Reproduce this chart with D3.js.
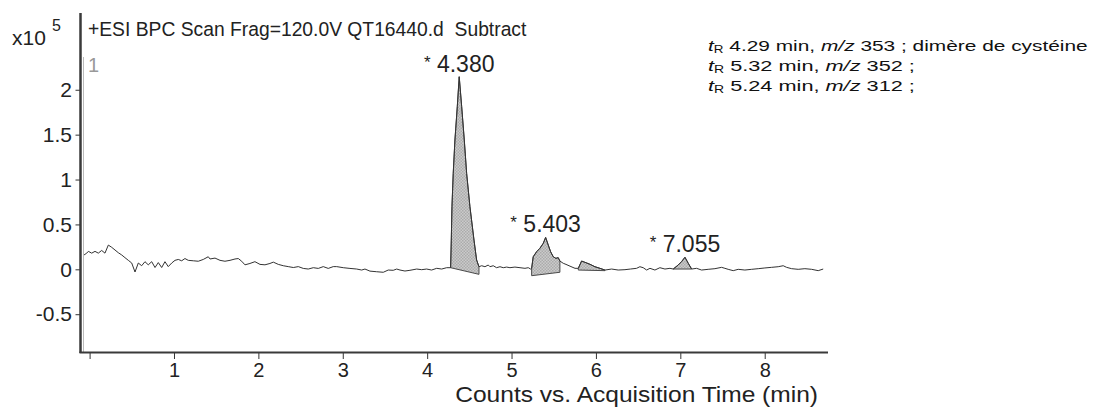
<!DOCTYPE html>
<html><head><meta charset="utf-8">
<script src="https://cdn.jsdelivr.net/npm/d3@7"></script>
<style>
html,body{margin:0;padding:0;background:#fff;}
text{font-family:"Liberation Sans",Arial,sans-serif;}
</style></head>
<body>
<div id="chart"></div>
<script>
// ---- data (counts in units of x10^5, time in min) ----
const acqTime = [-0.066,-0.034,-0.015,0.025,0.064,0.103,0.143,0.182,0.222,0.262,0.301,0.340,0.380,0.419,0.459,0.499,0.538,0.577,0.617,0.656,0.695,0.736,0.775,0.814,0.854,0.893,0.932,0.973,1.012,1.051,1.091,1.130,1.169,1.229,1.288,1.347,1.406,1.427,1.486,1.545,1.604,1.664,1.723,1.762,1.802,1.841,1.900,1.959,2.019,2.078,2.137,2.177,2.236,2.295,2.354,2.414,2.473,2.532,2.591,2.651,2.710,2.769,2.828,2.887,2.928,3.006,3.085,3.165,3.224,3.263,3.322,3.402,3.480,3.539,3.598,3.639,3.678,3.737,3.796,3.876,3.935,3.994,4.053,4.113,4.172,4.231,4.278,4.286,4.294,4.309,4.329,4.357,4.380,4.409,4.440,4.468,4.507,4.555,4.586,4.614,4.646,4.685,4.724,4.744,4.783,4.823,4.863,4.902,4.942,4.981,5.040,5.100,5.159,5.198,5.226,5.238,5.257,5.297,5.336,5.376,5.404,5.435,5.463,5.494,5.526,5.553,5.573,5.613,5.645,5.693,5.752,5.791,5.830,5.869,5.929,5.988,6.047,6.107,6.186,6.264,6.344,6.409,6.482,6.521,6.560,6.601,6.640,6.699,6.758,6.818,6.877,6.916,6.975,7.014,7.055,7.094,7.134,7.193,7.252,7.330,7.410,7.489,7.528,7.567,7.627,7.686,7.765,7.845,7.923,8.002,8.082,8.160,8.219,8.259,8.319,8.397,8.476,8.556,8.634,8.693];
const counts = [0.16,0.18,0.20,0.18,0.20,0.18,0.21,0.18,0.27,0.245,0.215,0.185,0.16,0.13,0.10,0.07,-0.03,0.07,0.04,0.085,0.05,0.085,0.02,0.075,0.02,0.085,0.03,0.07,0.10,0.11,0.095,0.12,0.10,0.095,0.09,0.11,0.14,0.115,0.125,0.10,0.09,0.10,0.115,0.12,0.09,0.05,0.065,0.085,0.055,0.05,0.065,0.08,0.055,0.04,0.03,0.02,0.03,0.01,0.003,0.018,0.01,0.03,0.01,0.03,0.03,0.018,0.01,0.003,-0.008,0.003,-0.02,-0.027,-0.033,-0.008,-0.011,0.003,-0.008,-0.019,-0.011,0.003,-0.004,0.003,-0.008,0.011,0.003,0.018,0.018,0.326,0.697,1.068,1.440,1.812,2.145,1.812,1.440,1.068,0.697,0.326,0.104,0.029,0.040,0.029,0.048,0.029,0.040,0.018,0.029,0.018,0.025,0.018,0.025,0.018,0.011,0.018,0.003,0.011,0.140,0.196,0.234,0.290,0.355,0.270,0.196,0.140,0.122,0.130,0.092,0.067,0.055,0.035,0.011,0.011,0.092,0.078,0.056,0.029,0.011,-0.008,0.003,-0.008,-0.004,0.003,0.011,0.029,0.018,-0.008,0.011,-0.008,0.018,0.003,0.011,0.003,0.048,0.085,0.134,0.067,0.003,0.011,-0.008,0.000,0.007,0.022,0.011,0.000,-0.015,0.000,-0.008,0.000,0.007,0.015,0.022,0.029,0.040,0.022,0.007,0.000,0.007,0.000,-0.015,0.003];

// integrated peaks
const peakStart = [4.278, 5.238, 5.791, 6.916];
const peakEnd   = [4.614, 5.573, 6.107, 7.134];
const baseStart = [0.018, -0.071, -0.008, 0.003];
const baseEnd   = [-0.056, -0.033, -0.015, 0.003];
const peakLabels = ["4.380", "5.403", "7.055"];
const peakLabelRT = [4.380, 5.404, 7.055];
const peakLabelApex = [2.145, 0.355, 0.134];

const yTicks = [-0.5, 0, 0.5, 1, 1.5, 2];
const yTickLabels = ["-0.5", "0", "0.5", "1", "1.5", "2"];
const xTicks = [1, 2, 3, 4, 5, 6, 7, 8];
const xTickLabels = ["1", "2", "3", "4", "5", "6", "7", "8"];

const title = "+ESI BPC Scan Frag=120.0V QT16440.d  Subtract";
const xTitle = "Counts vs. Acquisition Time (min)";
const notes = [
  {rt: "4.29", mz: "353", txt: " ; dimère de cystéine"},
  {rt: "5.32", mz: "352", txt: " ;"},
  {rt: "5.24", mz: "312", txt: " ;"}
];

// ---- drawing ----
const W = 1104, H = 408;
const FONT = '"Liberation Sans",Arial,sans-serif';
const svg = d3.select("#chart").append("svg").attr("width", W).attr("height", H);
svg.append("rect").attr("width", W).attr("height", H).attr("fill", "#fff");

const x = d3.scaleLinear().domain([-0.102, 8.75]).range([81, 828]);
const y = d3.scaleLinear().domain([-0.921, 2.855]).range([352, 13]);

// stretch a text horizontally to a target width, keeping its anchor point
function fitWidth(sel, target, anchorX) {
  const w = sel.node().getComputedTextLength();
  const s = target / w;
  sel.attr("transform", `translate(${anchorX},0) scale(${s},1) translate(${-anchorX},0)`);
}

const defs = svg.append("defs");
const pat = defs.append("pattern").attr("id", "chk").attr("patternUnits", "userSpaceOnUse")
  .attr("width", 3).attr("height", 3);
pat.append("rect").attr("width", 3).attr("height", 3).attr("fill", "#cbcbcb");
pat.append("rect").attr("width", 1.5).attr("height", 1.5).attr("fill", "#ababab");
pat.append("rect").attr("x", 1.5).attr("y", 1.5).attr("width", 1.5).attr("height", 1.5).attr("fill", "#ababab");

const data = acqTime.map((t, i) => ({t, v: counts[i]}));

// peak fills
peakStart.forEach((s, k) => {
  const e = peakEnd[k];
  const pts = data.filter(d => d.t >= s - 1e-9 && d.t <= e + 1e-9).map(d => [x(d.t), y(d.v)]);
  pts.push([x(e), y(baseEnd[k])]);
  pts.push([x(s), y(baseStart[k])]);
  svg.append("path").attr("d", "M" + pts.join("L") + "Z")
    .attr("fill", "url(#chk)").attr("stroke", "#4a4a4a").attr("stroke-width", 1);
});

// trace
svg.append("path").datum(data)
  .attr("d", d3.line().x(d => x(d.t)).y(d => y(d.v)))
  .attr("fill", "none").attr("stroke", "#333").attr("stroke-width", 1);

// axes
const yAxis = d3.axisLeft(y).tickValues(yTicks).tickFormat((d, i) => yTickLabels[i]).tickSize(5).tickSizeOuter(0);
const gy = svg.append("g").attr("transform", "translate(80.5,0)").call(yAxis);
gy.select(".domain").remove();
gy.selectAll(".tick line").attr("stroke", "#333");
gy.selectAll(".tick text").attr("font-size", 21).attr("fill", "#222").attr("x", -8.5)
  .attr("font-family", FONT);

const xAxis = d3.axisBottom(x).tickValues([0].concat(xTicks)).tickFormat(d => d === 0 ? "" : xTickLabels[xTicks.indexOf(d)]).tickSize(6).tickSizeOuter(0);
const gx = svg.append("g").attr("transform", "translate(0,353)").call(xAxis);
gx.select(".domain").remove();
gx.selectAll(".tick line").attr("stroke", "#333");
gx.selectAll(".tick text").attr("font-size", 20).attr("fill", "#222").attr("y", 10)
  .attr("font-family", FONT);

// axis lines
svg.append("line").attr("x1", 80.5).attr("x2", 80.5).attr("y1", 13).attr("y2", 353)
  .attr("stroke", "#3a3a3a").attr("stroke-width", 2.5);
svg.append("line").attr("x1", 83.5).attr("x2", 83.5).attr("y1", 57).attr("y2", 352)
  .attr("stroke", "#bbb").attr("stroke-width", 1);
svg.append("line").attr("x1", 79.5).attr("x2", 828).attr("y1", 352.5).attr("y2", 352.5)
  .attr("stroke", "#3a3a3a").attr("stroke-width", 2);

// multiplier & title
svg.append("text").attr("x", 12).attr("y", 45).attr("font-size", 21).attr("fill", "#222").text("x10");
svg.append("text").attr("x", 52).attr("y", 31).attr("font-size", 16).attr("fill", "#222").text("5");

svg.append("text").attr("x", 88).attr("y", 36).attr("font-size", 19.3).attr("fill", "#222")
  .style("white-space", "pre").text(title);
svg.append("text").attr("x", 88).attr("y", 72).attr("font-size", 20).attr("fill", "#999").text("1");

// peak labels
peakLabels.forEach((lab, i) => {
  const t = svg.append("text").attr("x", x(peakLabelRT[i])).attr("y", y(peakLabelApex[i]) - 5)
    .attr("text-anchor", "middle").attr("font-size", 23).attr("fill", "#222");
  t.append("tspan").attr("font-size", 17).attr("dy", -4).text("*");
  t.append("tspan").attr("dy", 4).text("\u00a0" + lab);
});

// x title
const xt = svg.append("text").attr("x", 818).attr("y", 402).attr("text-anchor", "end")
  .attr("font-size", 21.5).attr("fill", "#222").text(xTitle);
fitWidth(xt, 363, 818);

// notes
const noteW = [380, 207, 207];
notes.forEach((n, i) => {
  const t = svg.append("text").attr("x", 708).attr("y", 51 + i * 20).attr("font-size", 15.5).attr("fill", "#111");
  t.append("tspan").attr("font-style", "italic").text("t");
  t.append("tspan").attr("font-size", 10).attr("dy", 2).text("R");
  t.append("tspan").attr("dy", -2).text(" " + n.rt + " min, ");
  t.append("tspan").attr("font-style", "italic").text("m/z");
  t.append("tspan").text(" " + n.mz + n.txt);
  fitWidth(t, noteW[i], 708);
});
</script>
</body></html>
